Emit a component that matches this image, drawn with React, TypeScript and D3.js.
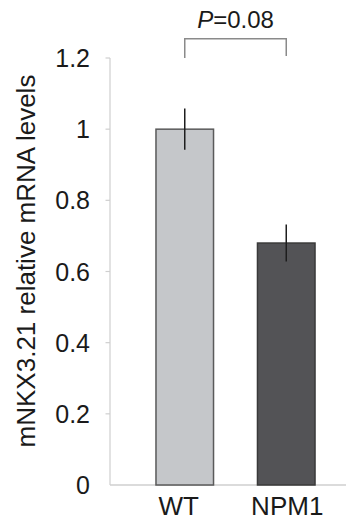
import React from "react";
import * as d3 from "d3";

const categories = ["WT", "NPM1"];
const means = [1.0, 0.68];
const errors = [0.058, 0.052];
const tickValues = [0, 0.2, 0.4, 0.6, 0.8, 1, 1.2];
const tickLabels = ["0", "0.2", "0.4", "0.6", "0.8", "1", "1.2"];
const barFills = ["#c5c7ca", "#535356"];
const barStrokes = ["#5a5a5a", "#3a3a3a"];
const yTitle = "mNKX3.21 relative mRNA levels";
const pLabel = "=0.08";

export default function App() {
  const W = 346;
  const H = 522;
  const font = "'Liberation Sans', Arial, sans-serif";
  const y = d3.scaleLinear().domain([0, 1.2]).range([485, 58]);
  const x = d3
    .scaleBand<string>()
    .domain(categories)
    .range([110, 361])
    .paddingInner(0.433)
    .paddingOuter(0.453);
  const bw = x.bandwidth();
  const axisX = 110;

  const c0 = (x(categories[0]) as number) + bw / 2;
  const c1 = (x(categories[1]) as number) + bw / 2;
  const bracketTop = y(1.254);

  return (
    <svg
      width={W}
      height={H}
      style={{ position: "absolute", left: 0, top: 0, background: "#fff" }}
      fontFamily={font}
    >
      {/* y axis */}
      <line x1={axisX} x2={axisX} y1={y(1.2)} y2={y(0)} stroke="#cfcfcf" strokeWidth={1.2} />
      {tickValues.map((t, i) => (
        <g key={i}>
          {t !== 0 && (
            <line x1={axisX - 4.5} x2={axisX} y1={y(t)} y2={y(t)} stroke="#cfcfcf" strokeWidth={1.2} />
          )}
          <text
            x={90}
            y={y(t)}
            textAnchor="end"
            dominantBaseline="central"
            fontSize={25}
            fill="#1a1a1a"
          >
            {tickLabels[i]}
          </text>
        </g>
      ))}
      {/* x axis */}
      <line x1={axisX} x2={W} y1={y(0)} y2={y(0)} stroke="#cfcfcf" strokeWidth={1.5} />

      {/* bars */}
      {categories.map((c, i) => {
        const x0 = x(c) as number;
        return (
          <g key={c}>
            <rect
              x={x0}
              y={y(means[i])}
              width={bw}
              height={y(0) - y(means[i])}
              fill={barFills[i]}
              stroke={barStrokes[i]}
              strokeWidth={1.5}
            />
            <line
              x1={x0 + bw / 2}
              x2={x0 + bw / 2}
              y1={y(means[i] + errors[i])}
              y2={y(means[i] - errors[i])}
              stroke="#1e1e1e"
              strokeWidth={1.5}
            />
            <text
              x={x0 + bw / 2 + (i === 0 ? -6 : 1)}
              y={515}
              textAnchor="middle"
              fontSize={26}
              fill="#1a1a1a"
            >
              {c}
            </text>
          </g>
        );
      })}

      {/* significance bracket */}
      <path
        d={`M${c0},${y(1.2)} V${bracketTop} H${c1} V${y(1.2) - 2}`}
        fill="none"
        stroke="#8a8a8a"
        strokeWidth={1.5}
      />
      <text x={(c0 + c1) / 2} y={28} textAnchor="middle" fontSize={24} fill="#1a1a1a">
        <tspan fontStyle="italic">P</tspan>
        <tspan>{pLabel}</tspan>
      </text>

      {/* y title */}
      <text
        transform={`translate(35, 261) rotate(-90)`}
        textAnchor="middle"
        fontSize={26}
        fill="#1a1a1a"
      >
        {yTitle}
      </text>
    </svg>
  );
}
